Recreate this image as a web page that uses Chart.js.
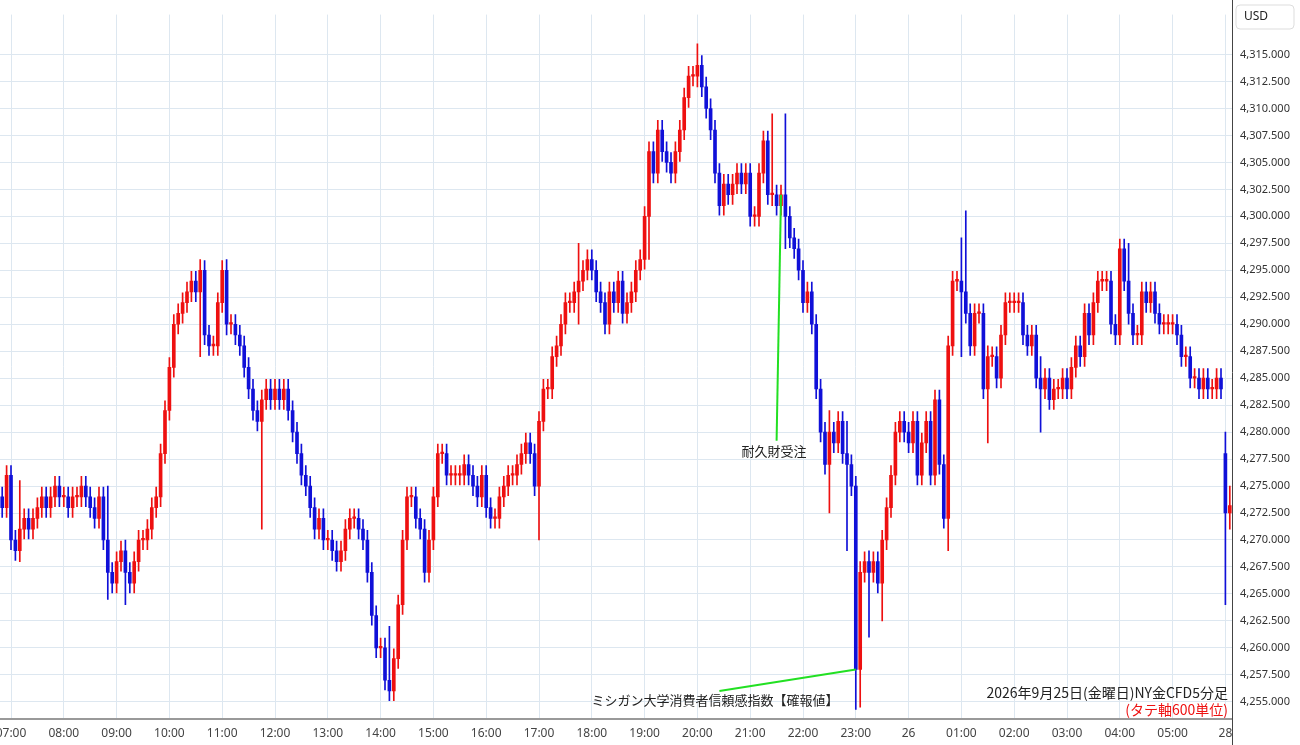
<!DOCTYPE html>
<html><head><meta charset="utf-8">
<script src="https://cdn.jsdelivr.net/npm/chart.js@4.4.1/dist/chart.umd.min.js"></script>
<style>html,body{margin:0;padding:0;background:#fff}#wrap{width:1300px;height:745px;position:relative}</style>
</head><body><div id="wrap"><canvas id="c" width="1300" height="745"></canvas></div>
<script>
// Closing prices, 5-minute candles, from 06:50 (Fri) to 05:55 (Sat), then two Monday candles
const closes = [
 4273,
 4276,4270,4269,4271,4272,4271,4272,4273,4274,4273,4274,4275,4274,
 4274,4273,4274,4274,4275,4274,4273,4272,4274,4270,4267,4266,
 4268,4269,4267,4266,4268,4270,4270,4271,4273,4274,4278,4282,
 4286,4290,4291,4292,4293,4294,4293,4295,4289,4288,4288,4292,
 4295,4290,4290,4289,4288,4286,4284,4282,4281,4283,4284,4283,
 4284,4283,4284,4282,4280,4278,4276,4275,4273,4271,4272,4270,
 4270,4269,4268,4269,4271,4272,4272,4271,4270,4267,4263,4260,
 4260,4257,4256,4259,4264,4270,4274,4274,4272,4271,4267,4270,
 4274,4278,4278,4276,4276,4276,4276,4277,4276,4275,4274,4276,
 4273,4272,4272,4274,4275,4276,4276,4277,4278,4279,4278,4275,
 4281,4284,4284,4287,4288,4290,4292,4292,4293,4294,4295,4296,
 4295,4293,4292,4290,4293,4292,4294,4291,4292,4293,4295,4296,
 4300,4306,4304,4308,4306,4305,4304,4306,4308,4311,4313,4313,
 4314,4312,4310,4308,4304,4301,4303,4302,4303,4304,4303,4304,
 4300,4300,4304,4307,4302,4302,4301,4302,4300,4298,4297,4295,
 4292,4293,4290,4284,4280,4277,4280,4279,4281,4278,4277,4275,
 4258,4267,4268,4267,4268,4266,4270,4273,4276,4280,4281,4280,
 4279,4281,4276,4279,4281,4276,4283,4277,4272,4288,4294,4294,
 4293,4291,4288,4291,4291,4284,4287,4287,4285,4289,4292,4292,
 4292,4292,4289,4288,4289,4285,4284,4285,4283,4284,4284,4285,
 4284,4286,4288,4287,4291,4289,4292,4294,4294,4294,4290,4289,
 4297,4294,4291,4289,4289,4293,4292,4293,4291,4290,4290,4290,
 4290,4289,4287,4287,4285,4285,4284,4285,4284,4284,4285,4284,
 4272.5,4273.2
];
// Opens that differ from the previous close (gaps)
const openOverrides = {278: 4278};
// Notable highs and lows [index, high, low]
const extremes = [
 [4,4275.5,4268],[24,4275,4264.5],[28,4270,4264],[45,4296,4287],[51,4296,4289],[59,4281,4271],
 [88,4262,4255.5],[89,4258,4256],[122,4280,4270],[131,4297.5,4290],
 [147,4301,4296],[158,4316,4312],[175,4309.5,4301],[178,4309.5,4297],
 [188,4282,4272.5],[192,4281,4269],[194,4275,4254.3],[195,4268,4254.5],[197,4269,4261],[200,4270,4262.5],
 [215,4277,4269],[218,4298,4287],[219,4300.5,4292],[224,4288,4279],[236,4287,4280],
 [256,4297.5,4290],[278,4280,4264],[279,4275,4271]
];
const startMin = 6*60+50;
const labels = closes.map((_,i)=>{
  if(i>=278) return i===278 ? '28' : '00:05';
  const t = (startMin + i*5) % (24*60);
  const h = Math.floor(t/60), m = t%60;
  if(h===0 && m===0) return '26';
  return String(h).padStart(2,'0')+':'+String(m).padStart(2,'0');
});
const ticksY = [4255,4257.5,4260,4262.5,4265,4267.5,4270,4272.5,4275,4277.5,4280,4282.5,4285,4287.5,4290,4292.5,4295,4297.5,4300,4302.5,4305,4307.5,4310,4312.5,4315];

const opens = closes.map((c,i)=> openOverrides[i]!==undefined ? openOverrides[i] : (i===0 ? 4274 : closes[i-1]));
const highs = closes.map((c,i)=>Math.max(c,opens[i])+0.9);
const lows = closes.map((c,i)=>Math.min(c,opens[i])-0.9);
extremes.forEach(([i,h,l])=>{ if(i<closes.length){highs[i]=Math.max(highs[i],h); lows[i]=Math.min(lows[i],l);} });
const RED='#ee1010', BLUE='#1010d8';
const cols = closes.map((c,i)=> c>=opens[i] ? RED : BLUE);
const isHour = (l)=> l.endsWith(':00')||l==='26'||l==='28';

const annot = {
  id:'annot',
  afterDatasetsDraw(ch){
    const {ctx, scales:{x,y}} = ch;
    ctx.save();
    ctx.strokeStyle='#22e022'; ctx.lineWidth=2;
    const idx=(h,m)=>2+((h-7)*12+m/5);
    ctx.beginPath(); ctx.moveTo(x.getPixelForValue(idx(21,35)), y.getPixelForValue(4302)); ctx.lineTo(x.getPixelForValue(idx(21,30)), y.getPixelForValue(4279.2)); ctx.stroke();
    ctx.beginPath(); ctx.moveTo(x.getPixelForValue(idx(23,0)), y.getPixelForValue(4258)); ctx.lineTo(x.getPixelForValue(idx(20,25)), y.getPixelForValue(4256)); ctx.stroke();
    ctx.fillStyle='#222'; ctx.font='13px "Noto Sans CJK JP"'; ctx.textAlign='center'; ctx.textBaseline='middle';
    ctx.fillText('耐久財受注', x.getPixelForValue(idx(21,27)), y.getPixelForValue(4278.2));
    ctx.fillText('ミシガン大学消費者信頼感指数【確報値】', x.getPixelForValue(idx(20,20)), y.getPixelForValue(4255.2));
    ctx.textAlign='right'; ctx.font='14px "Noto Sans CJK JP"';
    ctx.fillText('2026年9月25日(金曜日)NY金CFD5分足', x.right-4, y.getPixelForValue(4255.8));
    ctx.fillStyle='#ee1111';
    ctx.fillText('(タテ軸600単位)', x.right-4, y.getPixelForValue(4254.3));
    ctx.fillStyle='#fff'; ctx.strokeStyle='#ddd'; ctx.lineWidth=1;
    ctx.beginPath(); ctx.roundRect(1236,5,58,24,4); ctx.fill(); ctx.stroke();
    ctx.fillStyle='#222'; ctx.font='12px "Noto Sans"'; ctx.textAlign='left';
    ctx.fillText('USD',1244,17);
    ctx.strokeStyle='#444'; ctx.lineWidth=1;
    ctx.beginPath(); ctx.moveTo(x.right+0.5,0); ctx.lineTo(x.right+0.5,745); ctx.stroke();
    ctx.strokeStyle='#999'; ctx.lineWidth=2;
    ctx.beginPath(); ctx.moveTo(0,y.bottom+1); ctx.lineTo(x.right,y.bottom+1); ctx.stroke();
    ctx.restore();
  }
};

new Chart(document.getElementById('c'),{
  type:'bar',
  data:{labels, datasets:[
    {data: closes.map((c,i)=>[lows[i],highs[i]]), backgroundColor: cols, barThickness:1, grouped:false, order:2},
    {data: closes.map((c,i)=>[Math.min(opens[i],c), Math.max(opens[i],c)===Math.min(opens[i],c)?c+0.15:Math.max(opens[i],c)]), backgroundColor: cols, barThickness:3, grouped:false, order:1}
  ]},
  options:{
    responsive:false, maintainAspectRatio:false, animation:false, devicePixelRatio:1,
    layout:{padding:0},
    plugins:{legend:{display:false}, tooltip:{enabled:false}},
    scales:{
      x:{ grid:{offset:false, color:(c)=> isHour(labels[c.index]||'') ? '#dde7f0' : 'rgba(0,0,0,0)', drawTicks:false},
          border:{display:false},
          ticks:{autoSkip:false, maxRotation:0, padding:8, color:'#444', font:{size:12,family:'"Noto Sans"'},
            callback:(v,i)=> isHour(labels[i]) ? labels[i] : ''},
          afterFit:(s)=>{s.height=27; s.paddingLeft=0; s.paddingRight=0;} },
      y:{ position:'right', min:4253.5, max:4318.7,
          afterBuildTicks:(s)=>{s.ticks=ticksY.map(v=>({value:v}));},
          grid:{color:'#dde7f0', drawTicks:false}, border:{display:false},
          ticks:{padding:8, color:'#333', font:{size:11,family:'"Noto Sans"'},
            callback:(v)=>v.toLocaleString('en-US',{minimumFractionDigits:3,maximumFractionDigits:3})},
          afterFit:(s)=>{s.width=68;} }
    }
  },
  plugins:[annot]
});
</script></body></html>
